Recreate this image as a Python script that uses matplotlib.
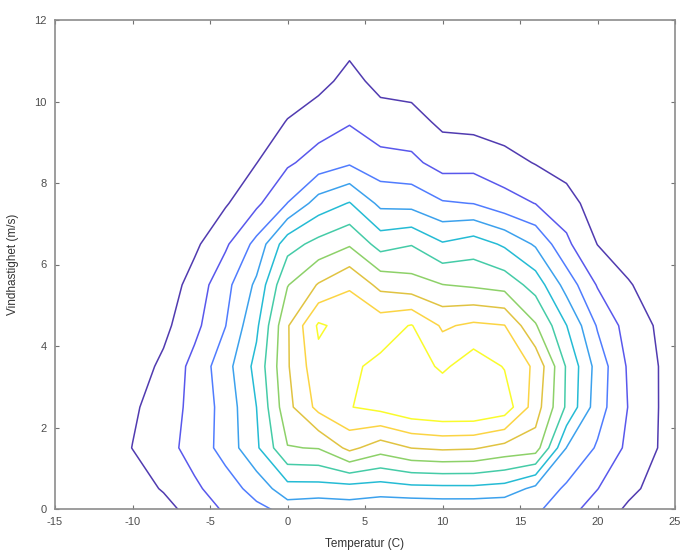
import numpy as np
import matplotlib
matplotlib.use("Agg")
import matplotlib.pyplot as plt
from matplotlib.colors import Normalize

# ---- data: smoothed occurrence density on a (temperature, wind) grid ----
temperature = [-14, -12, -10, -8, -6, -4, -2, 0, 2, 4, 6, 8, 10, 12, 14, 16, 18, 20, 22, 24, 26]
wind = [-0.5, 0.5, 1.5, 2.5, 3.5, 4.5, 5.5, 6.5, 7.5, 8.5, 9.5, 10.5, 11.5, 12.5]

d_m05 = [0, 0, 0, 0.1, 0.98, 1.75, 2.16, 2.4, 2.0, 2.4, 2.0, 1.7, 1.8, 1.75, 1.8, 2.7, 1.9, 1.2, 0.4, 0, 0]
d_05 = [0, 0.2, 0.45, 1.1, 1.82, 2.52, 3.38, 4.6, 4.6, 4.6, 4.5, 4.7, 4.74, 4.75, 4.6, 3.73, 2.83, 2.02, 1.26, 0.6, 0]
d_15 = [0, 0.3, 1.02, 1.62, 2.39, 3.38, 4.83, 6.95, 7.05, 8.27, 7.46, 8.02, 8.17, 8.1, 7.67, 7.5, 3.98, 2.88, 1.78, 0.95, 0]
d_25 = [0, 0.2, 0.85, 1.48, 2.3, 3.38, 5.0, 7.7, 9.3, 9.96, 10.3, 10.8, 11.0, 11.0, 10.6, 8.5, 5.85, 3.45, 1.96, 0.97, 0]
d_35 = [0, 0.1, 0.5, 1.2, 2.32, 3.6, 5.3, 7.9, 9.7, 9.85, 10.2, 10.6, 9.8, 10.6, 9.94, 8.8, 5.9, 3.6, 1.86, 0.97, 0]
d_45 = [0, 0, 0.2, 0.75, 1.72, 2.98, 4.8, 7.9, 10.15, 9.6, 9.6, 10.05, 8.86, 9.19, 9.03, 7.1, 5.02, 2.9, 1.58, 0.85, 0]
d_55 = [0, 0, 0, 0.4, 1.4, 2.69, 4.2, 6.95, 8.08, 8.9, 7.7, 7.4, 7.02, 6.85, 6.62, 5.6, 3.6, 1.92, 1.08, 0.5, 0]
d_65 = [0, 0, 0, 0.1, 0.8, 1.84, 3.3, 5.6, 6.32, 6.88, 5.61, 5.95, 5.1, 5.5, 4.85, 3.87, 2.2, 0.98, 0.5, 0.2, 0]
d_75 = [0, 0, 0, 0, 0.3, 0.9, 1.8, 3.02, 4.45, 5.06, 3.76, 3.67, 3.1, 2.98, 2.4, 1.98, 1.48, 0.4, 0.1, 0, 0]
d_85 = [0, 0, 0, 0, 0, 0.3, 0.98, 1.85, 2.42, 2.87, 2.35, 2.24, 1.6, 1.65, 1.35, 0.95, 0.5, 0, 0, 0, 0]
d_95 = [0, 0, 0, 0, 0, 0, 0.4, 1.05, 1.54, 1.92, 1.45, 1.36, 0.8, 0.7, 0.5, 0.3, 0, 0, 0, 0, 0]
d_105 = [0, 0, 0, 0, 0, 0, 0, 0.4, 0.7, 1.31, 0.7, 0.6, 0.3, 0.2, 0, 0, 0, 0, 0, 0, 0]
d_115 = [0, 0, 0, 0, 0, 0, 0, 0, 0.2, 0.69, 0.15, 0.1, 0, 0, 0, 0, 0, 0, 0, 0, 0]
d_125 = [0, 0, 0, 0, 0, 0, 0, 0, 0, 0.2, 0, 0, 0, 0, 0, 0, 0, 0, 0, 0, 0]

levels = [1, 2, 3, 4, 5, 6, 7, 8, 9, 10]

x_ticks = [-15, -10, -5, 0, 5, 10, 15, 20, 25]
y_ticks = [0, 2, 4, 6, 8, 10, 12]
x_label = "Temperatur (C)"
y_label = "Vindhastighet (m/s)"

# ---- parula colormap ----
parula_rgb = [
    (0.2422, 0.1504, 0.6603), (0.2647, 0.1978, 0.7952), (0.2783, 0.2559, 0.8991),
    (0.2810, 0.3228, 0.9579), (0.2699, 0.3892, 0.9906), (0.2206, 0.4603, 0.9973),
    (0.1786, 0.5289, 0.9682), (0.1540, 0.5902, 0.9218), (0.1248, 0.6459, 0.8883),
    (0.0689, 0.6948, 0.8394), (0.0067, 0.7312, 0.7660), (0.1408, 0.7584, 0.6842),
    (0.2161, 0.7843, 0.5923), (0.3406, 0.8008, 0.4789), (0.5044, 0.7993, 0.3480),
    (0.6720, 0.7793, 0.2227), (0.8203, 0.7498, 0.1535), (0.9393, 0.7288, 0.2100),
    (0.9970, 0.7659, 0.2199), (0.9786, 0.8386, 0.1766), (0.9597, 0.9135, 0.1423),
    (0.9769, 0.9839, 0.0805),
]
parula = matplotlib.colors.LinearSegmentedColormap.from_list("parula", parula_rgb, N=256)

plt.rcParams["font.family"] = ["Liberation Sans", "DejaVu Sans"]
plt.rcParams["axes.unicode_minus"] = False

Z = np.array([d_m05, d_05, d_15, d_25, d_35, d_45, d_55, d_65, d_75, d_85, d_95,
              d_105, d_115, d_125])

fig = plt.figure(figsize=(6.85, 5.54), dpi=100)
ax = fig.add_axes([55 / 685, 1 - 509 / 554, 620 / 685, 489 / 554])
ax.contour(temperature, wind, Z, levels=levels, cmap=parula,
           norm=Normalize(vmin=levels[0], vmax=levels[-1]), linewidths=1.1,
           alpha=0.9)

ax.set_xlim(-15, 25)
ax.set_ylim(0, 12)
ax.set_xticks(x_ticks)
ax.set_yticks(y_ticks)
ax.tick_params(direction="in", top=True, right=True, length=3, width=0.8,
               colors="0.45", labelsize=8, labelcolor="0.3", pad=6)
for s in ax.spines.values():
    s.set_color("0.55")
    s.set_linewidth(1.2)
ax.set_xlabel(x_label, fontsize=8.5, color="0.2", labelpad=8)
ax.set_ylabel(y_label, fontsize=8.5, color="0.2", labelpad=11)

fig.savefig("out.png", dpi=100, facecolor="white")
